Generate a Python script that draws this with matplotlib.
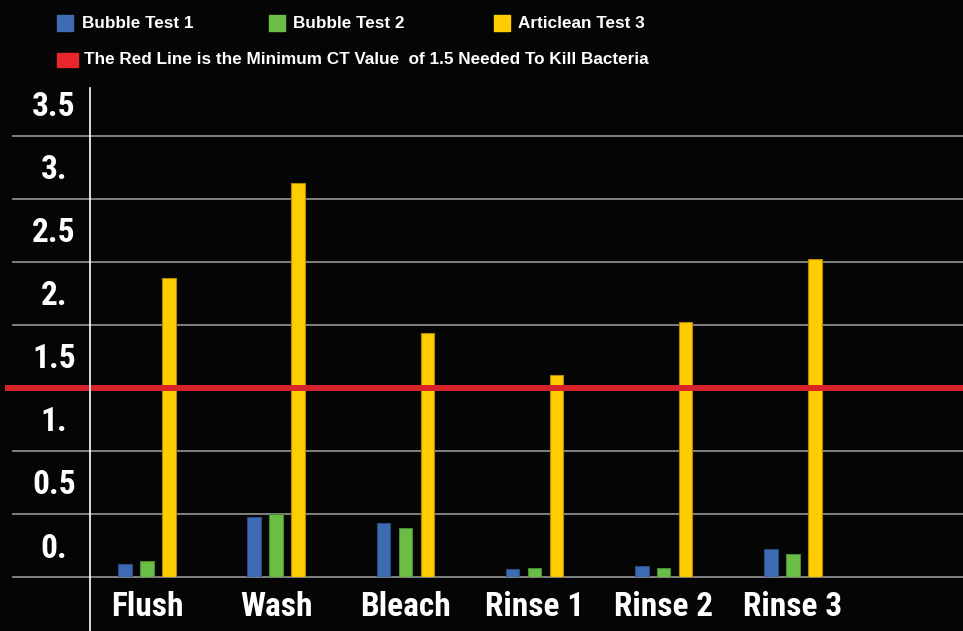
import matplotlib
matplotlib.use("Agg")
import matplotlib.pyplot as plt
import matplotlib.transforms as mtransforms
from matplotlib import font_manager
from matplotlib.patches import Rectangle
from matplotlib.lines import Line2D
import numpy as np

# --- data ---
stages = ["Flush", "Wash", "Bleach", "Rinse 1", "Rinse 2", "Rinse 3"]
bubble_test_1 = [0.10, 0.48, 0.43, 0.06, 0.09, 0.22]
bubble_test_2 = [0.13, 0.50, 0.39, 0.07, 0.07, 0.18]
articlean_test_3 = [2.37, 3.13, 1.94, 1.60, 2.02, 2.52]
ct_minimum = 1.5
y_ticks = [0, 0.5, 1, 1.5, 2, 2.5, 3, 3.5]
y_tick_labels = ["0.", "0.5", "1.", "1.5", "2.", "2.5", "3.", "3.5"]

series_names = ["Bubble Test 1", "Bubble Test 2", "Articlean Test 3"]
colors = ["#3F6BB5", "#6BBE45", "#FFCC00"]
edges = ["#2A4A80", "#4A8A30", "#B08A00"]
bg = "#050505"

# pick a condensed heavy face for the big labels if one is installed
installed = {f.name for f in font_manager.fontManager.ttflist}
big_font, big_size = "Liberation Sans", 20
for name, size in [("Roboto Condensed", 24), ("Liberation Sans Narrow", 24),
                   ("Open Sans Condensed", 24)]:
    if name in installed:
        big_font, big_size = name, size
        break

W, H = 963, 631
fig = plt.figure(figsize=(W / 100, H / 100), dpi=100, facecolor=bg)

# axes: left spine at x=90px, zero at y=577px, top at y=88px
left, right, bottom, top = 90, 963, 577, 88
ax = fig.add_axes([left / W, 1 - bottom / H, (right - left) / W, (bottom - top) / H])
ax.set_facecolor(bg)

x = np.arange(len(stages))
bw = 0.104
off = 0.17
for i, vals in enumerate([bubble_test_1, bubble_test_2, articlean_test_3]):
    ax.bar(x + (i - 1) * off, vals, width=bw, color=colors[i],
           edgecolor=edges[i], linewidth=0.8, zorder=3)

ax.set_xlim(-0.441, 6.316)
ax.set_ylim(0, 3.88)

# grid lines run left past the axis line
grid_xmin = -(left - 13) / (right - left)
for t in y_ticks:
    ax.axhline(t, xmin=grid_xmin, xmax=1, color="#8a8a8a", linewidth=1.3,
               clip_on=False, zorder=1)
ax.axhline(ct_minimum, xmin=-(left - 8) / (right - left), xmax=1, color="#D8232A",
           linewidth=4.3, clip_on=False, zorder=5)

for s in ax.spines.values():
    s.set_visible(False)
fig.add_artist(Line2D([left / W, left / W], [0, 1 - top / H], color="white",
                      linewidth=1.2, transform=fig.transFigure))

ax.set_yticks(y_ticks)
ax.set_yticklabels(y_tick_labels, family=big_font, fontweight="bold",
                   fontsize=big_size, color="white", ha="center")
ax.tick_params(axis="y", length=0, pad=26)
shift = mtransforms.ScaledTranslation(0, 0.32, fig.dpi_scale_trans)
for lab in ax.get_yticklabels():
    lab.set_transform(lab.get_transform() + shift)

ax.set_xticks(x)
ax.set_xticklabels(stages, family=big_font, fontweight="bold", fontsize=big_size,
                   color="white")
ax.tick_params(axis="x", length=0, pad=10)

# legend drawn by hand in pixel positions
def px(xp, yp):
    return xp / W, 1 - yp / H

legend_items = [(57, 82), (269, 293), (494, 518)]
for (sx, tx), name, c in zip(legend_items, series_names, colors):
    fig.patches.append(Rectangle(px(sx, 31), 16 / W, 16 / H, color=c,
                                 transform=fig.transFigure))
    fig.text(*px(tx, 23), name, color="white", fontsize=12.3, fontweight="bold",
             family="Liberation Sans", va="center", ha="left")
fig.patches.append(Rectangle(px(57, 67), 21 / W, 14 / H, color="#E8262C",
                             transform=fig.transFigure))
fig.text(*px(84, 59), "The Red Line is the Minimum CT Value  of 1.5 Needed To Kill Bacteria",
         color="white", fontsize=12.3, fontweight="bold", family="Liberation Sans",
         va="center", ha="left")

fig.savefig("out.png", dpi=100, facecolor=bg)
